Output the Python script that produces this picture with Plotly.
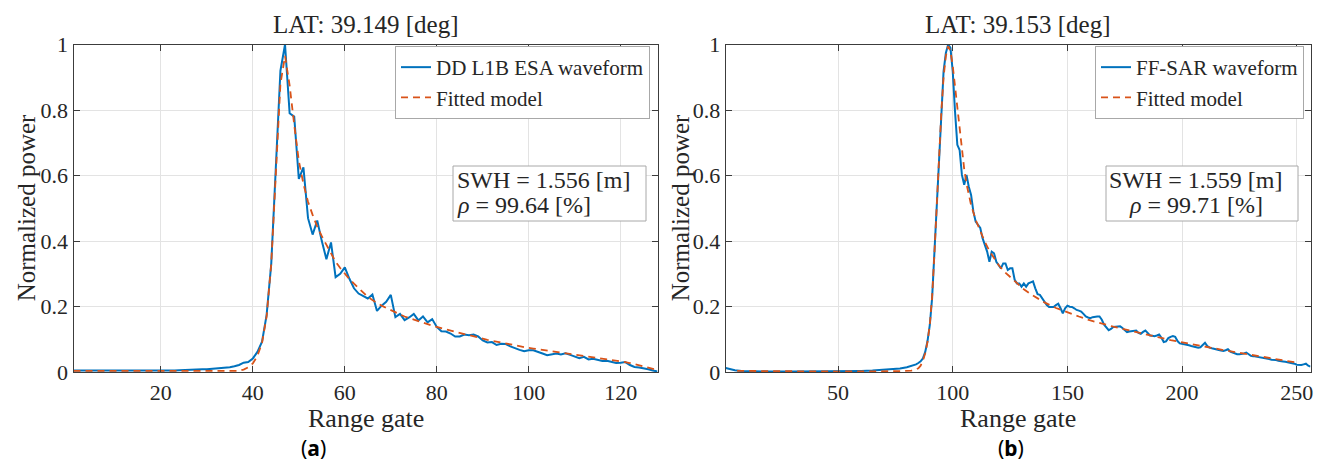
import plotly.graph_objects as go

# ---------------- data ----------------
# (a) DD L1B ESA waveform, range gates 1..128
dd_wave = [
    0.005, 0.005, 0.004, 0.004, 0.004, 0.004, 0.003, 0.003, 0.004, 0.004,
    0.004, 0.004, 0.004, 0.004, 0.004, 0.004, 0.004, 0.004, 0.004, 0.004,
    0.004, 0.005, 0.005, 0.006, 0.007, 0.007, 0.008, 0.008, 0.009, 0.009,
    0.010, 0.011, 0.012, 0.013, 0.015, 0.018, 0.022, 0.029, 0.031, 0.042,
    0.062, 0.093, 0.175, 0.33, 0.62, 0.92, 1.0, 0.79, 0.78, 0.59,
    0.625, 0.47, 0.42, 0.463, 0.40, 0.345, 0.396, 0.29, 0.30, 0.32,
    0.285, 0.256, 0.24, 0.232, 0.225, 0.237, 0.187, 0.203, 0.215, 0.236,
    0.168, 0.178, 0.159, 0.167, 0.178, 0.158, 0.170, 0.152, 0.162, 0.138,
    0.125, 0.124, 0.118, 0.109, 0.109, 0.115, 0.113, 0.115, 0.109, 0.097,
    0.091, 0.092, 0.083, 0.087, 0.086, 0.079, 0.073, 0.068, 0.064, 0.067,
    0.067, 0.063, 0.057, 0.052, 0.055, 0.057, 0.054, 0.058, 0.053, 0.049,
    0.043, 0.047, 0.039, 0.041, 0.037, 0.034, 0.035, 0.032, 0.028, 0.029,
    0.031, 0.022, 0.016, 0.014, 0.012, 0.009, 0.005, 0.002,
]
dd_fit = [
    0.004, 0.004, 0.004, 0.004, 0.004, 0.004, 0.004, 0.004, 0.004, 0.004,
    0.004, 0.004, 0.004, 0.004, 0.004, 0.004, 0.004, 0.004, 0.004, 0.004,
    0.003, 0.003, 0.003, 0.003, 0.003, 0.003, 0.003, 0.003, 0.003, 0.003,
    0.003, 0.002, 0.002, 0.002, 0.002, 0.003, 0.004, 0.008, 0.015, 0.027,
    0.05, 0.09, 0.17, 0.33, 0.61, 0.88, 0.965, 0.875, 0.755, 0.645,
    0.575, 0.52, 0.48, 0.444, 0.415, 0.388, 0.36, 0.337, 0.318, 0.30,
    0.284, 0.27, 0.256, 0.242, 0.23, 0.22, 0.211, 0.203, 0.196, 0.189,
    0.182, 0.176, 0.17, 0.165, 0.16, 0.155, 0.15, 0.146, 0.142, 0.138,
    0.134, 0.13, 0.126, 0.122, 0.119, 0.116, 0.113, 0.109, 0.106, 0.102,
    0.099, 0.096, 0.093, 0.09, 0.087, 0.084, 0.082, 0.079, 0.077, 0.074,
    0.072, 0.07, 0.067, 0.065, 0.063, 0.061, 0.059, 0.057, 0.055, 0.053,
    0.051, 0.049, 0.047, 0.045, 0.043, 0.041, 0.039, 0.037, 0.035, 0.033,
    0.031, 0.028, 0.025, 0.022, 0.018, 0.014, 0.010, 0.006,
]
dd_gates = list(range(1, len(dd_wave) + 1))

# (b) FF-SAR waveform (range gates 1..256)
ff_gates = [1, 3, 5, 8, 12, 20, 30, 40, 50, 60, 65, 70, 74, 77, 80, 82,
            84, 85, 86, 87, 88, 89, 90, 91, 92, 93, 94, 95, 96, 97, 98, 99,
            100, 101, 102, 103, 104, 105, 106, 107, 108, 109, 110, 111, 112, 113, 114, 115,
            116, 117, 118, 119, 120, 121, 122, 123, 124, 125, 126, 127, 128, 129, 130, 131,
            132, 133, 134, 135, 136, 137, 138, 139, 140, 141, 142, 143, 144, 145, 146, 147,
            148, 149, 150, 151, 152, 153, 154, 155, 156, 157, 158, 159, 160, 161, 162, 163,
            164, 165, 166, 167, 168, 169, 170, 171, 172, 173, 174, 175, 176, 177, 178, 179,
            180, 181, 182, 183, 184, 185, 186, 187, 188, 189, 190, 191, 192, 193, 194, 195,
            196, 197, 198, 199, 200, 201, 202, 203, 204, 205, 206, 207, 208, 209, 210, 211,
            212, 213, 214, 215, 216, 217, 218, 219, 220, 221, 222, 223, 224, 225, 226, 227,
            228, 229, 230, 231, 232, 233, 234, 235, 236, 237, 238, 239, 240, 241, 242, 243,
            244, 245, 246, 247, 248, 249, 250, 251, 252, 253, 254, 255, 256]
ff_wave = [0.013, 0.009, 0.006, 0.004, 0.003, 0.002, 0.002, 0.002, 0.003, 0.004, 0.005, 0.007, 0.009, 0.011, 0.015, 0.019,
           0.024, 0.028, 0.033, 0.042, 0.062, 0.095, 0.144, 0.226, 0.358, 0.48, 0.63, 0.785, 0.918, 0.974, 1.0, 0.99,
           0.918, 0.795, 0.694, 0.678, 0.602, 0.572, 0.602, 0.566, 0.541, 0.49, 0.46, 0.45, 0.44, 0.409, 0.388, 0.368,
           0.337, 0.368, 0.363, 0.337, 0.327, 0.317, 0.332, 0.332, 0.312, 0.317, 0.317, 0.282, 0.271, 0.271, 0.261, 0.271,
           0.261, 0.271, 0.274, 0.277, 0.256, 0.238, 0.236, 0.226, 0.215, 0.205, 0.199, 0.199, 0.199, 0.205, 0.209, 0.195,
           0.18, 0.195, 0.203, 0.2, 0.199, 0.195, 0.19, 0.188, 0.185, 0.178, 0.17, 0.167, 0.165, 0.168, 0.17, 0.17,
           0.17, 0.16, 0.145, 0.138, 0.128, 0.132, 0.138, 0.139, 0.14, 0.14, 0.135, 0.128, 0.122, 0.124, 0.125, 0.126,
           0.127, 0.12, 0.117, 0.123, 0.127, 0.12, 0.112, 0.111, 0.11, 0.112, 0.115, 0.105, 0.092, 0.094, 0.104, 0.108,
           0.11, 0.108, 0.095, 0.088, 0.087, 0.085, 0.084, 0.082, 0.08, 0.078, 0.077, 0.075, 0.076, 0.083, 0.09, 0.08,
           0.075, 0.073, 0.072, 0.069, 0.068, 0.066, 0.065, 0.067, 0.07, 0.063, 0.06, 0.057, 0.055, 0.055, 0.055, 0.057,
           0.06, 0.055, 0.05, 0.049, 0.048, 0.047, 0.045, 0.044, 0.043, 0.042, 0.04, 0.038, 0.038, 0.037, 0.035, 0.033,
           0.033, 0.032, 0.031, 0.03, 0.029, 0.026, 0.023, 0.022, 0.022, 0.024, 0.026, 0.02, 0.017]
ff_fit_gates = [6, 20, 50, 75, 82, 84, 85, 86, 87, 88, 89, 90, 91, 92, 93, 94, 95, 96, 97, 98, 99,
                100, 101, 102, 103, 104, 105, 106, 107, 108, 110, 112, 114, 116, 118, 120, 122,
                125, 128, 131, 134, 137, 140, 145, 150, 155, 160, 165, 170, 175, 180, 185, 190,
                195, 200, 205, 210, 215, 220, 225, 230, 235, 240, 245, 250, 251]
ff_fit = [0.004, 0.003, 0.002, 0.003, 0.005, 0.008, 0.012, 0.02, 0.035, 0.058, 0.092, 0.145, 0.23, 0.36, 0.51, 0.66,
          0.79, 0.9, 0.965, 0.995, 0.98,
          0.935, 0.87, 0.8, 0.735, 0.675, 0.62, 0.575, 0.54, 0.51, 0.465, 0.43, 0.398, 0.37, 0.348, 0.327, 0.31,
          0.29, 0.27, 0.253, 0.238, 0.225, 0.213, 0.196, 0.182, 0.17, 0.158, 0.148, 0.139, 0.131, 0.122, 0.114, 0.106,
          0.098, 0.091, 0.084, 0.078, 0.071, 0.065, 0.059, 0.053, 0.047, 0.041, 0.035, 0.029, 0.028]

titles = ["LAT: 39.149 [deg]", "LAT: 39.153 [deg]"]
wave_names = ["DD L1B ESA waveform", "FF-SAR waveform"]
fit_name = "Fitted model"
swh_text = ["SWH = 1.556 [m]", "SWH = 1.559 [m]"]
rho_text = ["<i>ρ</i> = 99.64 [%]", "<i>ρ</i> = 99.71 [%]"]
panel_labels = ["(<b>a</b>)", "(<b>b</b>)"]
x_ticks = [[20, 40, 60, 80, 100, 120], [50, 100, 150, 200, 250]]
x_ranges = [[1, 128], [1, 256]]
y_ticks = [0, 0.2, 0.4, 0.6, 0.8, 1]

# ---------------- style ----------------
W, H = 1322, 466
BLUE = "#0072BD"
ORANGE = "#D95319"
SERIF = "'Liberation Serif', 'DejaVu Serif', 'Times New Roman', Times, serif"
TXT = "#262626"
BORDER = "#a8a8a8"

def px(x):
    return x / W

def py(y):
    return 1 - y / H

fig = go.Figure()

fig.add_trace(go.Scatter(x=dd_gates, y=dd_wave, mode="lines", name=wave_names[0],
                         line=dict(color=BLUE, width=2), xaxis="x", yaxis="y", legend="legend"))
fig.add_trace(go.Scatter(x=dd_gates, y=dd_fit, mode="lines", name=fit_name,
                         line=dict(color=ORANGE, width=1.8, dash="7px,5px"), xaxis="x", yaxis="y", legend="legend"))
fig.add_trace(go.Scatter(x=ff_gates, y=ff_wave, mode="lines", name=wave_names[1],
                         line=dict(color=BLUE, width=2), xaxis="x2", yaxis="y2", legend="legend2"))
fig.add_trace(go.Scatter(x=ff_fit_gates, y=ff_fit, mode="lines", name=fit_name,
                         line=dict(color=ORANGE, width=1.8, dash="7px,5px"), xaxis="x2", yaxis="y2", legend="legend2"))

plot_left = [73.5, 725.7]
plot_right = [657.5, 1310.5]
plot_top, plot_bot = 44.5, 372.2

axis_common = dict(
    showline=True, linecolor="#3c3c3c", linewidth=1, mirror="ticks",
    ticks="inside", ticklen=6, tickcolor="#3c3c3c", automargin=False,
    showgrid=True, gridcolor="#e3e3e3", gridwidth=1, zeroline=False,
    tickfont=dict(family=SERIF, size=22, color=TXT),
)

legend_common = dict(yanchor="top", xanchor="right", bgcolor="white", bordercolor=BORDER,
                     borderwidth=1, font=dict(family=SERIF, size=21, color=TXT),
                     itemwidth=30, tracegroupgap=0)

fig.update_layout(
    width=W, height=H, autosize=False,
    margin=dict(l=0, r=0, t=0, b=0, pad=0),
    paper_bgcolor="white", plot_bgcolor="white",
    font=dict(family=SERIF, color=TXT),
    xaxis=dict(domain=[px(plot_left[0]), px(plot_right[0])], range=x_ranges[0],
               tickvals=x_ticks[0], anchor="y", **axis_common),
    yaxis=dict(domain=[py(plot_bot), py(plot_top)], range=[0, 1], tickvals=y_ticks,
               anchor="x", **axis_common),
    xaxis2=dict(domain=[px(plot_left[1]), px(plot_right[1])], range=x_ranges[1],
                tickvals=x_ticks[1], anchor="y2", **axis_common),
    yaxis2=dict(domain=[py(plot_bot), py(plot_top)], range=[0, 1], tickvals=y_ticks,
                anchor="x2", **axis_common),
    legend=dict(x=px(650), y=py(46), **legend_common),
    legend2=dict(x=px(1304), y=py(46), **legend_common),
    showlegend=True,
)

annotations = []
shapes = []
centers = [(plot_left[i] + plot_right[i]) / 2 for i in range(2)]
ylab_x = [26, 680]
panel_x = [313, 1011]
box_x0 = [453, 1106]
box_x1 = [646, 1298]
box_y0, box_y1 = 166, 221
line_y = [180, 205]
text_x = [455, 1196]
text_anchor = ["left", "center"]
for i in range(2):
    annotations.append(dict(text=titles[i], x=px(centers[i]), y=py(24), xref="paper", yref="paper",
                            showarrow=False, xanchor="center", yanchor="middle",
                            font=dict(family=SERIF, size=25, color=TXT)))
    annotations.append(dict(text="Range gate", x=px(centers[i]), y=py(418), xref="paper", yref="paper",
                            showarrow=False, xanchor="center", yanchor="middle",
                            font=dict(family=SERIF, size=26, color=TXT)))
    annotations.append(dict(text="Normalized power", x=px(ylab_x[i]), y=py((plot_top + plot_bot) / 2),
                            xref="paper", yref="paper", showarrow=False, textangle=-90,
                            xanchor="center", yanchor="middle",
                            font=dict(family=SERIF, size=25, color=TXT)))
    annotations.append(dict(text=panel_labels[i], x=px(panel_x[i]), y=py(448), xref="paper", yref="paper",
                            showarrow=False, xanchor="center", yanchor="middle",
                            font=dict(family="Noto Sans", size=21, color="black")))
    shapes.append(dict(type="rect", xref="paper", yref="paper",
                       x0=px(box_x0[i]), x1=px(box_x1[i]), y0=py(box_y1), y1=py(box_y0),
                       line=dict(color=BORDER, width=1), fillcolor="white", layer="above"))
    for txt, ly in zip([swh_text[i], rho_text[i]], line_y):
        annotations.append(dict(text=txt, x=px(text_x[i]), y=py(ly), xref="paper", yref="paper",
                                showarrow=False, xanchor=text_anchor[i], yanchor="middle",
                                font=dict(family=SERIF, size=24, color=TXT)))
fig.update_layout(annotations=annotations, shapes=shapes)

fig.write_html(
    "out.html",
    config={"displayModeBar": False},
    post_script="document.body.style.margin='0';document.body.style.overflow='hidden';",
)
